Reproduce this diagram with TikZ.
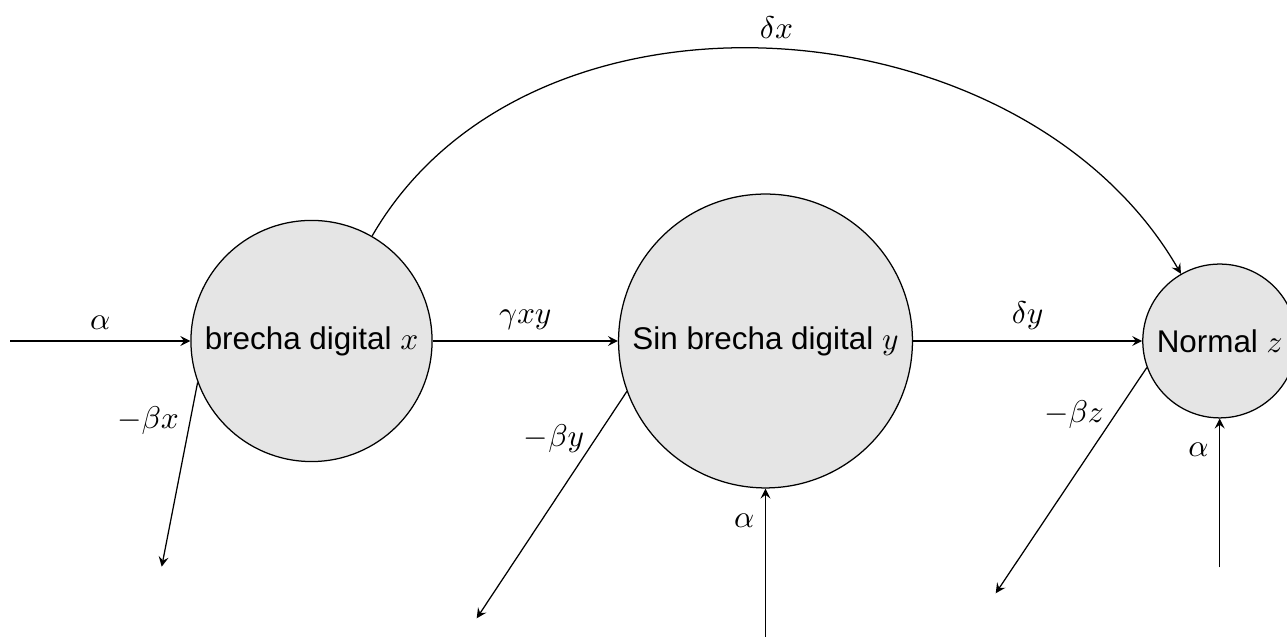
\documentclass[tikz,border=0pt]{standalone}
\usepackage{fontspec}
\setmainfont{Liberation Sans}
\begin{document}
\begin{tikzpicture}[x=0.3185pt,y=0.3185pt,>=stealth,
  state/.style={circle,draw,fill=black!10,inner sep=0pt},
  flow/.style={->}]
\useasboundingbox (0,0) rectangle (1287,637);
% states
\node[state,minimum size=76.8pt] (x) at (311.5,296) {brecha digital $x$};
\node[state,minimum size=93.6pt] (y) at (765.5,296) {Sin brecha digital $y$};
\node[state,minimum size=49pt] (z) at (1219.7,296) {Normal $z$};
% free ends
\coordinate (inx) at (10,296);
\coordinate (outx) at (161.7,70.3);
\coordinate (outy) at (476.7,18.7);
\coordinate (outz) at (995.7,43.7);
\coordinate (iny) at (765.5,0);
\coordinate (inz) at (1219.7,69.7);
% connectors
\draw[flow] (inx) -- node[above] {$\alpha$} (x);
\draw[flow] (x) -- node[above] {$\gamma x y$} (y);
\draw[flow] (y) -- node[above] {$\delta y$} (z);
\draw[flow] (x) to[out=60,in=120] node[above] {$\delta x$} (z);
\draw[flow] (x.200) -- node[left,pos=0.21] {$-\beta x$} (outx);
\draw[flow] (y.200) -- node[left,pos=0.21] {$-\beta y$} (outy);
\draw[flow] (z.200) -- node[left,pos=0.21] {$-\beta z$} (outz);
\draw[flow] (iny) -- node[left,pos=0.78] {$\alpha$} (y);
\draw[flow] (inz) -- node[left,pos=0.79] {$\alpha$} (z);
\end{tikzpicture}
\end{document}
